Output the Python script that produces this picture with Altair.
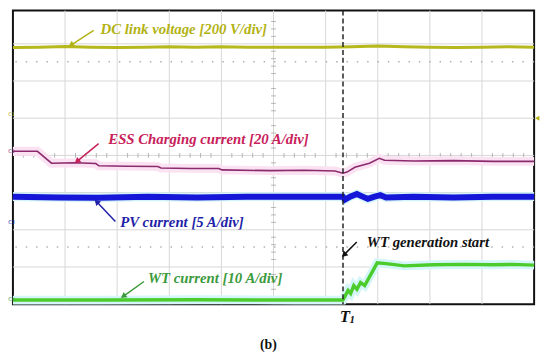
import math
import altair as alt
import pandas as pd

# Time in graticule divisions (0..10), amplitude in divisions (0 = bottom line)
dc_t = [0, 0.5, 1, 1.5, 2, 2.5, 3, 3.5, 4, 4.5, 5, 5.5, 6, 6.5, 7, 7.5, 8, 8.5, 9, 9.5, 10]
dc_v = [6.90, 6.91, 6.93, 6.91, 6.90, 6.91, 6.92, 6.91, 6.92, 6.91, 6.91, 6.91, 6.91, 6.92, 6.94, 6.92, 6.91, 6.90, 6.91, 6.92, 6.91]

ess_t = [0, 0.47, 0.74, 1.20, 1.59, 1.65, 2.20, 2.78, 2.84, 3.40, 3.95, 4.01, 4.95, 5.60, 6.18, 6.33, 6.41, 6.56, 6.84, 7.03, 7.13, 7.69, 8.45, 9.21, 10]
ess_v = [4.11, 4.11, 3.79, 3.80, 3.78, 3.72, 3.71, 3.70, 3.66, 3.65, 3.65, 3.61, 3.59, 3.60, 3.58, 3.52, 3.55, 3.68, 3.79, 3.92, 3.87, 3.85, 3.86, 3.84, 3.84]

pv_t = [0, 0.89, 1.65, 2.59, 3.54, 4.48, 5.43, 6.33, 6.37, 6.47, 6.60, 6.71, 6.81, 6.94, 7.05, 7.16, 7.69, 8.45, 9.21, 10]
pv_v = [2.89, 2.87, 2.86, 2.89, 2.87, 2.89, 2.89, 2.89, 2.81, 2.89, 2.96, 2.89, 2.83, 2.89, 2.93, 2.87, 2.89, 2.87, 2.89, 2.89]

wt_t = [0, 1.65, 3.54, 5.43, 6.33, 6.37, 6.43, 6.48, 6.54, 6.60, 6.67, 6.75, 6.99, 7.16, 7.51, 8.07, 8.64, 9.21, 9.58, 10]
wt_v = [0.11, 0.11, 0.12, 0.11, 0.11, 0.21, 0.37, 0.29, 0.50, 0.40, 0.58, 0.50, 1.11, 1.09, 1.03, 1.06, 1.07, 1.06, 1.07, 1.05]

grid_x = [1, 2, 3, 4, 5, 6, 7, 8, 9]
grid_y = [1, 2, 3, 4, 5, 6, 7]
dotted_y = [6.52, 1.54]
minor = [0.2, 0.4, 0.6, 0.8, 1.2, 1.4, 1.6, 1.8, 2.2, 2.4, 2.6, 2.8, 3.2, 3.4, 3.6, 3.8,
         4.2, 4.4, 4.6, 4.8, 5.2, 5.4, 5.6, 5.8, 6.2, 6.4, 6.6, 6.8, 7.2, 7.4, 7.6, 7.8,
         8.2, 8.4, 8.6, 8.8, 9.2, 9.4, 9.6, 9.8]
minor_y = [0.2, 0.4, 0.6, 0.8, 1.2, 1.4, 1.6, 1.8, 2.2, 2.4, 2.6, 2.8, 3.2, 3.4, 3.6, 3.8,
           4.2, 4.4, 4.6, 4.8, 5.2, 5.4, 5.6, 5.8, 6.2, 6.4, 6.6, 6.8, 7.2, 7.4, 7.6]
t1 = 6.333

lab_text = ["DC link voltage [200 V/div]", "ESS Charging current [20 A/div]",
            "PV current [5 A/div]", "WT current [10 A/div]", "WT generation start"]
lab_t = [1.68, 1.83, 2.06, 2.59, 6.79]
lab_v = [7.39, 4.45, 2.20, 0.69, 1.67]
lab_col = ["#b2b214", "#c8205a", "#1f1fa8", "#3c9a3c", "#111111"]

arr_t = [1.55, 1.645, 1.966, 2.514, 6.597]
arr_v = [7.364, 4.318, 2.225, 0.609, 1.669]
arr_t2 = [1.115, 1.229, 1.607, 2.117, 6.352]
arr_v2 = [6.967, 3.841, 2.755, 0.212, 1.325]

PXX = 52.9
PXY = 37.75
YMAX = 7.894

X = lambda f: alt.X(f, type="quantitative", scale=alt.Scale(domain=[0, 10], nice=False, zero=False), axis=None)
Y = lambda f: alt.Y(f, type="quantitative", scale=alt.Scale(domain=[0, YMAX], nice=False, zero=False), axis=None)

gx = pd.DataFrame({"x": grid_x})
gy = pd.DataFrame({"y": grid_y})
dy = pd.DataFrame({"y": dotted_y})
mh = pd.DataFrame({"x": minor, "y": [4] * len(minor)})
mv = pd.DataFrame({"x": [5] * len(minor_y), "y": minor_y})

grid_v = alt.Chart(gx).mark_rule(color="#d6d6d6", strokeWidth=1).encode(x=X("x"))
grid_h = alt.Chart(gy).mark_rule(color="#d6d6d6", strokeWidth=1).encode(y=Y("y"))
dots = alt.Chart(dy).mark_rule(color="#b0b0b0", strokeWidth=1.5, strokeDash=[1.5, 9]).encode(y=Y("y"))
ticks_h = alt.Chart(mh).mark_tick(orient="vertical", size=5, color="#9a9a9a", thickness=1).encode(x=X("x"), y=Y("y"))
ticks_v = alt.Chart(mv).mark_tick(orient="horizontal", size=5, color="#9a9a9a", thickness=1).encode(x=X("x"), y=Y("y"))

dc = pd.DataFrame({"t": dc_t, "v": dc_v})
ess = pd.DataFrame({"t": ess_t, "v": ess_v})
pv = pd.DataFrame({"t": pv_t, "v": pv_v})
wt = pd.DataFrame({"t": wt_t, "v": wt_v})

def line(df, color, w, **kw):
    return alt.Chart(df).mark_line(color=color, strokeWidth=w, interpolate="linear", **kw).encode(x=X("t"), y=Y("v"), order="t:Q")

layers = [grid_v, grid_h, dots, ticks_h, ticks_v,
          line(ess, "#fbe2f2", 9),
          line(pv, "#d2f4f8", 9),
          line(wt, "#d4f6f8", 9),
          line(dc, "#b6b81e", 3),
          line(ess, "#8c2a6e", 1.6),
          line(pv, "#1616d8", 6),
          line(wt, "#4ccc2c", 3.5)]

dash = alt.Chart(pd.DataFrame({"x": [t1]})).mark_rule(color="#222222", strokeWidth=1.5, strokeDash=[5, 3]).encode(x=X("x"))
layers.append(dash)

arr = pd.DataFrame({"t": arr_t, "v": arr_v, "t2": arr_t2, "v2": arr_v2, "c": lab_col})
arr["ang"] = [
    (math.degrees(math.atan2((b - a) * PXX, (d - c) * PXY)) + 360) % 360
    for a, b, c, d in zip(arr_t, arr_t2, arr_v, arr_v2)
]
arrows = alt.Chart(arr).mark_rule(strokeWidth=1.5).encode(
    x=X("t"), y=Y("v"), x2="t2", y2="v2", color=alt.Color("c:N", scale=None))
heads = alt.Chart(arr).mark_point(shape="triangle-up", filled=True, size=45, opacity=1).encode(
    x=X("t2"), y=Y("v2"), color=alt.Color("c:N", scale=None), angle=alt.Angle("ang:Q", scale=None))
layers += [arrows, heads]

labs = pd.DataFrame({"t": lab_t, "v": lab_v, "s": lab_text, "c": lab_col})
texts = alt.Chart(labs).mark_text(align="left", baseline="middle", font="Liberation Serif",
                                  fontSize=15, fontStyle="italic", fontWeight="bold").encode(
    x=X("t"), y=Y("v"), text="s:N", color=alt.Color("c:N", scale=None))
layers.append(texts)

tT = alt.Chart(pd.DataFrame({"t": [6.27], "v": [-0.34], "s": ["T"]})).mark_text(
    align="left", baseline="middle", font="Liberation Serif", fontSize=17, fontStyle="italic",
    fontWeight="bold", color="#111111").encode(x=X("t"), y=Y("v"), text="s:N")
t1s = alt.Chart(pd.DataFrame({"t": [6.46], "v": [-0.44], "s": ["1"]})).mark_text(
    align="left", baseline="middle", font="Liberation Serif", fontSize=11, fontStyle="italic",
    fontWeight="bold", color="#111111").encode(x=X("t"), y=Y("v"), text="s:N")
capb = alt.Chart(pd.DataFrame({"t": [4.90], "v": [-1.10], "s": ["(b)"]})).mark_text(
    align="center", baseline="middle", font="Liberation Serif", fontSize=14, fontWeight="bold",
    color="#111111").encode(x=X("t"), y=Y("v"), text="s:N")
layers += [tT, t1s, capb]

ch = pd.DataFrame({"t": [-0.09, -0.09, -0.09, -0.09], "v": [5.1, 4.12, 2.2, 0.15],
                   "s": ["C1", "C2", "C3", "C4"], "c": ["#b2b214", "#8c2a6e", "#1f1fa8", "#3c9a3c"]})
chl = alt.Chart(ch).mark_text(align="left", baseline="middle", font="DejaVu Sans", fontSize=5).encode(
    x=X("t"), y=Y("v"), text="s:N", color=alt.Color("c:N", scale=None))
trig = alt.Chart(pd.DataFrame({"t": [10.06], "v": [5.0]})).mark_point(
    shape="triangle-left", filled=True, size=25, color="#b2b214", opacity=1).encode(x=X("t"), y=Y("v"))
layers += [chl, trig]

chart = alt.layer(*layers).properties(
    width=529, height=298,
    padding={"left": 5, "top": 0, "right": 8, "bottom": 50},
    autosize="none",
    background="white",
).configure_view(stroke="#111111", strokeWidth=2)

chart.save("out.html", embed_options={"renderer": "svg", "actions": False})
